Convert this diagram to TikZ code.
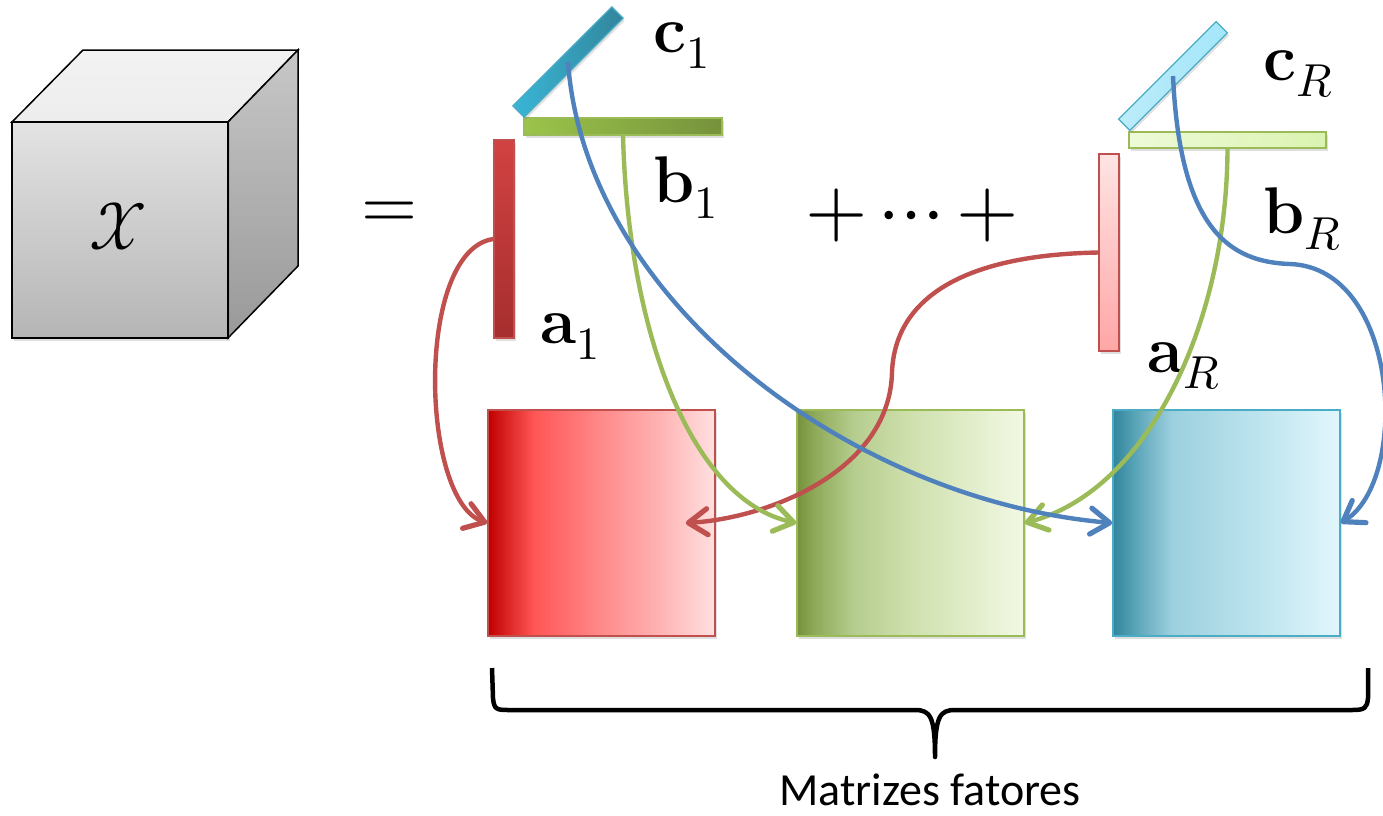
\documentclass[tikz,border=0pt]{standalone}
\usepackage{fontspec}
\usepackage{unicode-math}
\newfontfamily\carlito{Carlito}
\usetikzlibrary{positioning, arrows.meta, shadows}

\definecolor{linkred}{HTML}{C0504D}
\definecolor{linkgreen}{HTML}{9BBB59}
\definecolor{linkblue}{HTML}{4F81BD}
\definecolor{edgecyan}{HTML}{4BACC6}

\definecolor{r0}{HTML}{C00000}\definecolor{r1}{HTML}{FF5555}\definecolor{r2}{HTML}{FF8A8A}
\definecolor{r3}{HTML}{FFB0B0}\definecolor{r4}{HTML}{FFE0E0}
\pgfdeclarehorizontalshading{redfade}{100bp}{color(0bp)=(r0); color(25bp)=(r0);
  color(35bp)=(r1); color(50bp)=(r2); color(62bp)=(r3); color(75bp)=(r4); color(100bp)=(r4)}
\definecolor{g0}{HTML}{76923C}\definecolor{g1}{HTML}{8FAA5A}\definecolor{g2}{HTML}{B5CD8E}
\definecolor{g3}{HTML}{CFE0AD}\definecolor{g4}{HTML}{F2F9E4}
\pgfdeclarehorizontalshading{greenfade}{100bp}{color(0bp)=(g0); color(25bp)=(g0);
  color(29bp)=(g1); color(37.5bp)=(g2); color(50bp)=(g3); color(75bp)=(g4); color(100bp)=(g4)}
\definecolor{b0}{HTML}{31859C}\definecolor{b1}{HTML}{5AA5B8}\definecolor{b2}{HTML}{9CD0DE}
\definecolor{b3}{HTML}{B9E2EC}\definecolor{b4}{HTML}{E2F6FC}
\pgfdeclarehorizontalshading{bluefade}{100bp}{color(0bp)=(b0); color(25bp)=(b0);
  color(30bp)=(b1); color(38bp)=(b2); color(55bp)=(b3); color(75bp)=(b4); color(100bp)=(b4)}

\begin{document}
\begin{tikzpicture}[x=1pt, y=-1pt,
    softshadow/.style={drop shadow={shadow xshift=1.5pt, shadow yshift=-2.5pt, opacity=.25}},
    bar/.style={draw, inner sep=0, line width=1.2pt, softshadow},
    mat/.style={draw, inner sep=0, line width=1.5pt, minimum width=227, minimum height=226, softshadow},
    vec/.style={anchor=base west, inner sep=0, font=\fontsize{66}{70}\selectfont},
    link/.style={line width=4.4pt, -{Straight Barb[length=19pt, width=26pt, line width=5.2pt, round]}}]
  \useasboundingbox (0,0) rectangle (1383,815);

  % tensor
  \draw[line width=1.5pt, top color=black!5, bottom color=black!7] (12,122) -- (83,50) -- (298,50) -- (228,122) -- cycle;
  \draw[line width=1.5pt, top color=black!22, bottom color=black!40] (228,122) -- (298,50) -- (298,266) -- (228,338) -- cycle;
  \draw[line width=1.5pt, top color=black!11, bottom color=black!29, softshadow] (12,122) rectangle (228,338);
  \node[font=\fontsize{66}{70}\selectfont] (X) at (118,226) {$\mathcal{X}$};
  \node[font=\fontsize{72}{72}\selectfont] (eq) at (390,215) {$=$};
  \node[font=\fontsize{80}{80}\selectfont] (dots) at (912,215) {$+\cdots+$};

  % first rank-one term
  \node[bar, draw=linkred, top color={rgb,255:red,210;green,66;blue,66}, bottom color={rgb,255:red,166;green,46;blue,46}, minimum width=20, minimum height=198] (a1) at (504,239) {};
  \node[bar, draw=linkgreen, left color={rgb,255:red,155;green,196;blue,74}, right color=g0, minimum width=198, minimum height=17] (b1) at (623,126.5) {};
  \node[bar, draw=edgecyan, rotate=45, left color={rgb,255:red,58;green,182;blue,214}, right color=b0, minimum width=140, minimum height=16] (c1) at (568,62) {};
  \node[vec] (la1) at (540,343) {$\mathbf{a}_1$};
  \node[vec] (lb1) at (653,202) {$\mathbf{b}_1$};
  \node[vec] (lc1) at (653,52) {$\mathbf{c}_1$};

  % last rank-one term
  \node[bar, draw=linkred, top color={rgb,255:red,255;green,228;blue,228}, bottom color={rgb,255:red,255;green,166;blue,166}, minimum width=20, minimum height=197] (aR) at (1109,252.5) {};
  \node[bar, draw=linkgreen, left color={rgb,255:red,238;green,250;blue,216}, right color={rgb,255:red,218;green,243;blue,176}, minimum width=197, minimum height=16] (bR) at (1227.5,140) {};
  \node[bar, draw=edgecyan, rotate=45, left color={rgb,255:red,188;green,236;blue,250}, right color={rgb,255:red,164;green,230;blue,250}, minimum width=138, minimum height=16] (cR) at (1173,76) {};
  \node[vec] (laR) at (1147,372) {$\mathbf{a}_R$};
  \node[vec] (lbR) at (1263,233) {$\mathbf{b}_R$};
  \node[vec] (lcR) at (1263,80) {$\mathbf{c}_R$};

  % factor matrices
  \node[mat, draw=linkred, shading=redfade] (A) at (601.5,523) {};
  \node[mat, draw=linkgreen, shading=greenfade] (B) at (910.5,523) {};
  \node[mat, draw=edgecyan, shading=bluefade] (C) at (1226.5,523) {};
  \coordinate (Ain) at ([xshift=-30]A.east);

  \draw[link, linkred] (a1.west) .. controls (415,250) and (420,500) .. (A.west);
  \draw[link, linkred] (aR.west) .. controls (960,255) and (895,300) .. (892,372) .. controls (890,470) and (770,518) .. (Ain);
  \draw[link, linkgreen] (b1.south) .. controls (628,330) and (690,500) .. (B.west);
  \draw[link, linkgreen] (bR.south) .. controls (1227,320) and (1150,490) .. (B.east);
  \draw[link, linkblue] (c1.center) .. controls (585,300) and (850,500) .. (C.west);
  \draw[link, linkblue] (cR.center) .. controls (1180,230) and (1230,262) .. (1290,264) .. controls (1400,268) and (1410,480) .. (C.east);

  % brace
  \draw[line width=4.5pt, line join=round] (492,668) -- (493,698) .. controls (494,710) and (497,710) .. (510,710)
    -- (915,710) .. controls (930,710) and (935,716) .. (935,757) .. controls (935,716) and (940,710) .. (955,710)
    -- (1352,710) .. controls (1365,710) and (1367,708) .. (1368,698) -- (1368,668);
  \node[font=\carlito\fontsize{46}{50}\selectfont, anchor=base, inner sep=0] (lbl) at (930,805) {Matrizes fatores};
\end{tikzpicture}
\end{document}
